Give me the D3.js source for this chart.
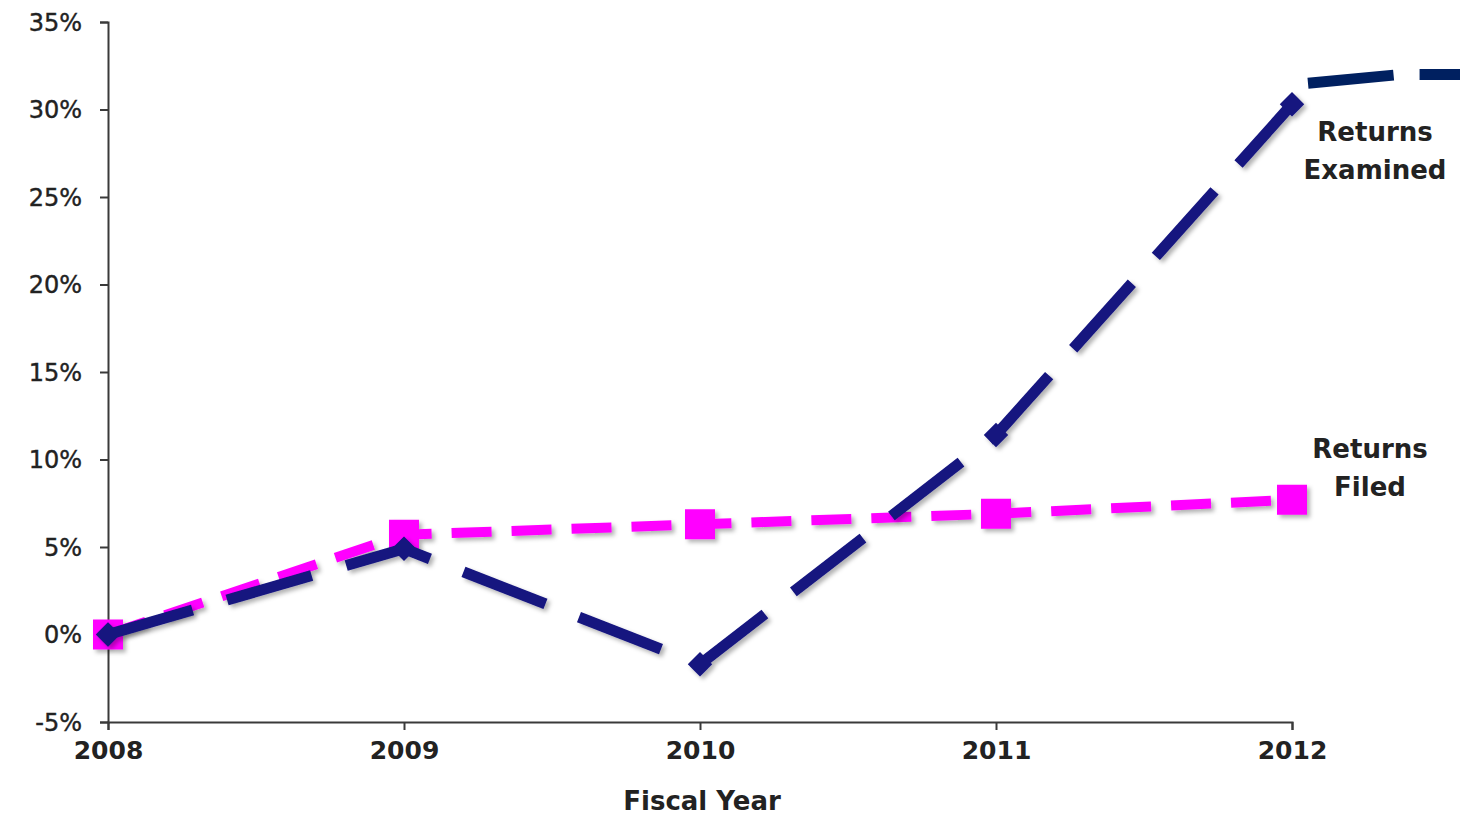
<!DOCTYPE html>
<html>
<head>
<meta charset="utf-8">
<script src="https://cdn.jsdelivr.net/npm/d3@7"></script>
<style>
  html, body { margin: 0; padding: 0; background: #fff; }
  svg { display: block; }
</style>
</head>
<body>
<svg id="chart" width="1460" height="820"></svg>
<script>
// Fiscal years on the horizontal axis
const years = [2008, 2009, 2010, 2011, 2012];
// Percent change since FY2008
const returnsExamined = [0, 4.9, -1.7, 11.4, 30.3];
const returnsFiled = [0, 5.7, 6.3, 6.9, 7.7];
// Vertical axis ticks (percent)
const yTicks = [-5, 0, 5, 10, 15, 20, 25, 30, 35];
// Series names shown beside the last point
const seriesNames = [["Returns", "Examined"], ["Returns", "Filed"]];
// Decorative rule at the upper right, in chart units (year, percent)
const headerRule = [[2012.054, 31.5], [2012.365, 32.0], [2012.62, 32.0]];

const svg = d3.select("#chart");
const plotLeft = 108, plotRight = 1292, plotTop = 22, plotBottom = 722;

const x = d3.scaleLinear().domain([2008, 2012]).range([plotLeft, plotRight]);
const y = d3.scaleLinear().domain([-5, 35]).range([plotBottom, plotTop]);

const defs = svg.append("defs");
const shadow = defs.append("filter").attr("id", "shadow")
  .attr("x", "-20%").attr("y", "-20%").attr("width", "140%").attr("height", "140%");
shadow.append("feDropShadow")
  .attr("dx", 3).attr("dy", 3).attr("stdDeviation", 2)
  .attr("flood-color", "#000").attr("flood-opacity", 0.3);

const axisColor = "#3a3a3a";
const textColor = "#222";

// Y axis
const yAxis = svg.append("g").attr("transform", `translate(${plotLeft},0)`)
  .call(d3.axisLeft(y).tickValues(yTicks).tickSize(8).tickFormat(d => d + "%"));
yAxis.select(".domain").attr("stroke", axisColor).attr("stroke-width", 2);
yAxis.selectAll(".tick line").attr("stroke", axisColor).attr("stroke-width", 2);
yAxis.selectAll(".tick text")
  .attr("x", -26).attr("dy", "0.35em")
  .attr("fill", textColor)
  .attr("stroke", textColor).attr("stroke-width", 0.4)
  .style("font-family", "'DejaVu Sans', Verdana, sans-serif")
  .style("font-size", "24px");

// X axis
const xAxis = svg.append("g").attr("transform", `translate(0,${plotBottom})`)
  .call(d3.axisBottom(x).tickValues(years).tickSize(8).tickFormat(d3.format("d")));
xAxis.select(".domain").attr("stroke", axisColor).attr("stroke-width", 2);
xAxis.selectAll(".tick line").attr("stroke", axisColor).attr("stroke-width", 2);
xAxis.selectAll(".tick text")
  .attr("y", 19).attr("dy", "0.71em")
  .attr("fill", textColor)
  .style("font-family", "'DejaVu Sans', Verdana, sans-serif")
  .style("font-weight", "bold")
  .style("font-size", "25px");

svg.append("text")
  .attr("x", (plotLeft + plotRight) / 2 + 2).attr("y", 810)
  .attr("text-anchor", "middle").attr("fill", textColor)
  .style("font-family", "'DejaVu Sans', Verdana, sans-serif")
  .style("font-weight", "bold").style("font-size", "26px")
  .text("Fiscal Year");

const line = d3.line().x(d => x(d[0])).y(d => y(d[1]));

// Returns Filed: magenta dashed line with square markers
const filedPts = years.map((yr, i) => [yr, returnsFiled[i]]);
const gFiled = svg.append("g").attr("filter", "url(#shadow)");
gFiled.append("path").datum(filedPts)
  .attr("d", line).attr("fill", "none")
  .attr("stroke", "#ff00ff").attr("stroke-width", 10)
  .attr("stroke-dasharray", "40 20");
gFiled.selectAll("rect").data(filedPts).join("rect")
  .attr("x", d => x(d[0]) - 15).attr("y", d => y(d[1]) - 15)
  .attr("width", 30).attr("height", 30)
  .attr("fill", "#ff00ff");

// Returns Examined: navy long-dash line with diamond markers
const examinedPts = years.map((yr, i) => [yr, returnsExamined[i]]);
const gExam = svg.append("g").attr("filter", "url(#shadow)");
gExam.append("path").datum(examinedPts)
  .attr("d", line).attr("fill", "none")
  .attr("stroke", "#14147f").attr("stroke-width", 11)
  .attr("stroke-dasharray", "88 36");
gExam.selectAll("path.marker").data(examinedPts).join("path")
  .attr("class", "marker")
  .attr("d", d3.symbol().type(d3.symbolDiamond2).size(380))
  .attr("transform", d => `translate(${x(d[0])},${y(d[1])})`)
  .attr("fill", "#14147f");

// Decorative rule
svg.append("path").datum(headerRule)
  .attr("d", line).attr("fill", "none")
  .attr("stroke", "#002060").attr("stroke-width", 11)
  .attr("stroke-dasharray", "86 26 300");

// Series labels beside the 2012 points
const labelFont = sel => sel
  .attr("text-anchor", "middle").attr("fill", textColor)
  .style("font-family", "'DejaVu Sans', Verdana, sans-serif")
  .style("font-weight", "bold").style("font-size", "26px");

const lastExam = examinedPts[examinedPts.length - 1];
const tExam = svg.append("text").call(labelFont)
  .attr("x", x(lastExam[0]) + 83).attr("y", y(lastExam[1]) + 37);
seriesNames[0].forEach((s, i) => tExam.append("tspan")
  .attr("x", x(lastExam[0]) + 83).attr("dy", i ? 38 : 0).text(s));

const lastFiled = filedPts[filedPts.length - 1];
const tFiled = svg.append("text").call(labelFont)
  .attr("x", x(lastFiled[0]) + 78).attr("y", y(lastFiled[1]) - 42);
seriesNames[1].forEach((s, i) => tFiled.append("tspan")
  .attr("x", x(lastFiled[0]) + 78).attr("dy", i ? 38 : 0).text(s));
</script>
</body>
</html>
